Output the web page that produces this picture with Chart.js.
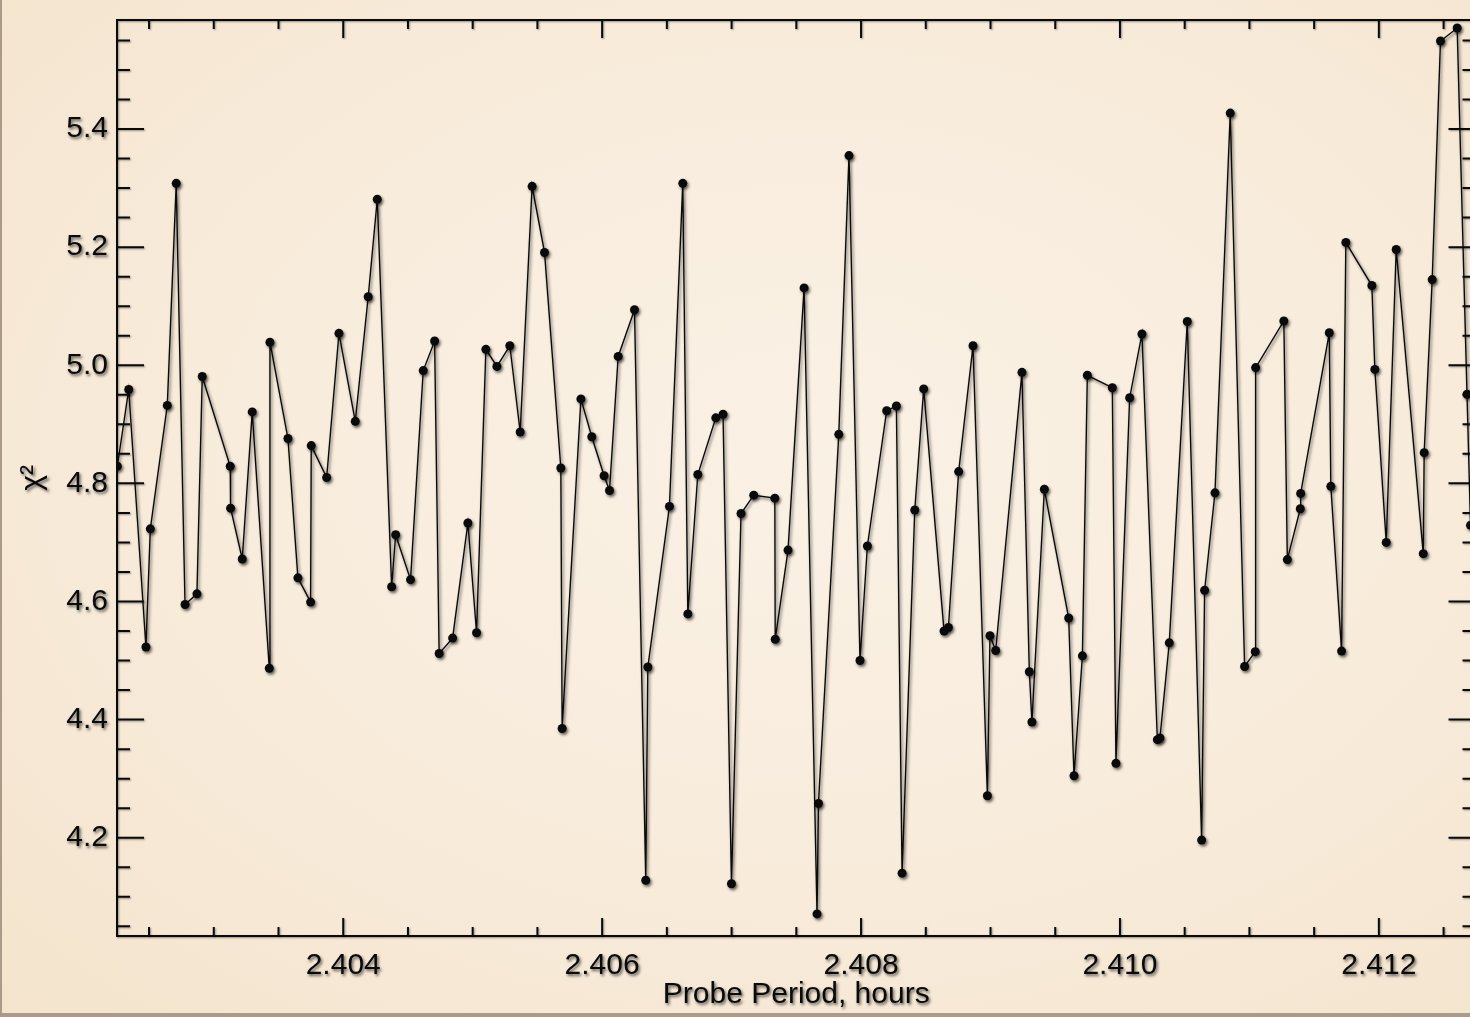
<!DOCTYPE html>
<html>
<head>
<meta charset="utf-8">
<script src="https://cdn.jsdelivr.net/npm/chart.js@4.4.1/dist/chart.umd.min.js"></script>
<style>
  html, body { margin: 0; padding: 0; width: 1470px; height: 1017px; overflow: hidden; background: #ab998a; }
  #paper {
    position: absolute; left: 2px; top: 0; width: 1468px; height: 1013px; overflow: hidden;
    background: radial-gradient(ellipse at 55% 45%, #faf1e5 0%, #f8ecdc 50%, #f4e4cd 100%);
  }
  #wrap { position: absolute; left: -2px; top: 0; width: 1480px; height: 1013px; }
</style>
</head>
<body>
<div id="paper">
  <div id="wrap"><canvas id="chi2Chart" width="1480" height="1013"></canvas></div>
</div>
<script>
// probe period (hours) and chi-square
const periods = [
  2.402255, 2.402343, 2.402476, 2.402510, 2.402641, 2.402710, 2.402778, 2.402870, 2.402911, 2.403127,
  2.403130, 2.403220, 2.403297, 2.403429, 2.403434, 2.403573, 2.403650, 2.403748, 2.403753, 2.403872,
  2.403967, 2.404093, 2.404193, 2.404263, 2.404374, 2.404405, 2.404520, 2.404618, 2.404706, 2.404741,
  2.404845, 2.404963, 2.405030, 2.405102, 2.405187, 2.405287, 2.405367, 2.405459, 2.405555, 2.405681,
  2.405691, 2.405836, 2.405920, 2.406015, 2.406057, 2.406124, 2.406250, 2.406337, 2.406353, 2.406520,
  2.406623, 2.406662, 2.406739, 2.406878, 2.406934, 2.406999, 2.407073, 2.407171, 2.407334, 2.407337,
  2.407436, 2.407560, 2.407660, 2.407671, 2.407828, 2.407907, 2.407992, 2.408049, 2.408198, 2.408273,
  2.408317, 2.408415, 2.408484, 2.408641, 2.408675, 2.408754, 2.408865, 2.408976, 2.408996, 2.409040,
  2.409243, 2.409300, 2.409320, 2.409416, 2.409604, 2.409645, 2.409710, 2.409748, 2.409941, 2.409969,
  2.410075, 2.410170, 2.410289, 2.410309, 2.410381, 2.410520, 2.410631, 2.410654, 2.410734, 2.410852,
  2.410963, 2.411045, 2.411048, 2.411266, 2.411293, 2.411393, 2.411396, 2.411617, 2.411629, 2.411712,
  2.411745, 2.411946, 2.411969, 2.412057, 2.412134, 2.412343, 2.412350, 2.412412, 2.412476, 2.412605,
  2.412681, 2.412708
];
const chi2 = [
  4.829, 4.959, 4.523, 4.723, 4.932, 5.308, 4.595, 4.613, 4.981, 4.829,
  4.758, 4.672, 4.921, 4.487, 5.039, 4.876, 4.640, 4.599, 4.864, 4.810,
  5.054, 4.905, 5.116, 5.281, 4.625, 4.713, 4.637, 4.991, 5.041, 4.512,
  4.538, 4.733, 4.547, 5.027, 4.998, 5.033, 4.887, 5.303, 5.191, 4.826,
  4.385, 4.943, 4.879, 4.813, 4.788, 5.015, 5.094, 4.128, 4.489, 4.761,
  5.308, 4.579, 4.815, 4.911, 4.917, 4.122, 4.749, 4.780, 4.775, 4.536,
  4.687, 5.131, 4.071, 4.258, 4.883, 5.355, 4.500, 4.694, 4.923, 4.931,
  4.140, 4.755, 4.960, 4.550, 4.556, 4.820, 5.033, 4.271, 4.542, 4.517,
  4.988, 4.481, 4.396, 4.790, 4.572, 4.305, 4.508, 4.983, 4.962, 4.326,
  4.945, 5.053, 4.366, 4.369, 4.530, 5.074, 4.196, 4.619, 4.784, 5.427,
  4.490, 4.515, 4.996, 5.075, 4.671, 4.757, 4.783, 5.055, 4.795, 4.516,
  5.208, 5.135, 4.993, 4.700, 5.196, 4.681, 4.852, 5.145, 5.549, 5.571,
  4.951, 4.729
];

const xTickValues = [2.404, 2.406, 2.408, 2.410, 2.412];
const xTickLabels = ['2.404', '2.406', '2.408', '2.410', '2.412'];
const yTickValues = [4.2, 4.4, 4.6, 4.8, 5.0, 5.2, 5.4];
const yTickLabels = ['4.2', '4.4', '4.6', '4.8', '5.0', '5.2', '5.4'];

const xMin = 2.4022525, xMax = 2.4127465;
const yMin = 4.0336, yMax = 5.5846;
const xMinorStep = 0.0005, yMinorStep = 0.05;

const fontFamily = "'Liberation Sans', Arial, Helvetica, sans-serif";
const ink = '#0a0a0a';

// soft drop shadow, like the slide the plot was pasted on
const shadowPlugin = {
    id: 'shadow',
    beforeDraw(chart) {
        const ctx = chart.ctx;
        ctx.shadowColor = 'rgba(0, 0, 0, 0.6)';
        ctx.shadowBlur = 3;
        ctx.shadowOffsetX = 1.5;
        ctx.shadowOffsetY = 2;
    }
};

// IDL-style box with inward ticks on all four sides
const framePlugin = {
    id: 'frame',
    afterDraw(chart) {
        const ctx = chart.ctx;
        const area = chart.chartArea;
        const xs = chart.scales.x;
        const ys = chart.scales.y;
        ctx.save();
        ctx.shadowColor = 'rgba(0, 0, 0, 0.4)';
        ctx.shadowBlur = 2;
        ctx.shadowOffsetX = 1;
        ctx.shadowOffsetY = 1;
        ctx.strokeStyle = ink;
        ctx.lineWidth = 2;
        ctx.strokeRect(area.left, area.top, area.right - area.left, area.bottom - area.top);

        function xTick(v, len) {
            const px = xs.getPixelForValue(v);
            ctx.moveTo(px, area.bottom); ctx.lineTo(px, area.bottom - len);
            ctx.moveTo(px, area.top); ctx.lineTo(px, area.top + len);
        }
        function yTick(v, len) {
            const py = ys.getPixelForValue(v);
            ctx.moveTo(area.left, py); ctx.lineTo(area.left + len, py);
            ctx.moveTo(area.right, py); ctx.lineTo(area.right - len, py);
        }
        ctx.beginPath();
        for (let k = Math.ceil(xMin / xMinorStep); k * xMinorStep <= xMax; k++) {
            xTick(k * xMinorStep, 9);
        }
        xTickValues.forEach(v => xTick(v, 18));
        for (let k = Math.ceil(yMin / yMinorStep); k * yMinorStep <= yMax; k++) {
            yTick(k * yMinorStep, 13);
        }
        yTickValues.forEach(v => yTick(v, 27));
        ctx.stroke();
        ctx.restore();
    }
};

const ctx = document.getElementById('chi2Chart').getContext('2d');

new Chart(ctx, {
    type: 'scatter',
    data: {
        datasets: [{
            data: periods.map((p, i) => ({ x: p, y: chi2[i] })),
            showLine: true,
            borderColor: ink,
            borderWidth: 1.4,
            backgroundColor: ink,
            pointRadius: 4.5,
            pointBorderWidth: 0,
            pointBackgroundColor: ink,
            tension: 0
        }]
    },
    options: {
        responsive: false,
        animation: false,
        layout: { padding: { left: 0, top: 20, right: 4, bottom: 0 } },
        plugins: {
            legend: { display: false },
            tooltip: { enabled: false }
        },
        scales: {
            x: {
                type: 'linear',
                min: xMin,
                max: xMax,
                afterBuildTicks: s => { s.ticks = xTickValues.map(v => ({ value: v })); },
                afterFit: s => { s.height = 77; s.paddingLeft = 0; s.paddingRight = 0; },
                grid: { display: false, drawTicks: false },
                border: { display: false },
                ticks: {
                    autoSkip: false,
                    maxRotation: 0,
                    padding: 12,
                    color: ink,
                    font: { family: fontFamily, size: 30 },
                    callback: function(value) {
                        const i = xTickValues.indexOf(value);
                        return i >= 0 ? xTickLabels[i] : '';
                    }
                },
                title: {
                    display: true,
                    text: 'Probe Period, hours',
                    color: ink,
                    font: { family: fontFamily, size: 30 },
                    padding: { top: 0, bottom: 0 }
                }
            },
            y: {
                type: 'linear',
                min: yMin,
                max: yMax,
                afterBuildTicks: s => { s.ticks = yTickValues.map(v => ({ value: v })); },
                afterFit: s => { s.width = 117; s.paddingTop = 0; s.paddingBottom = 0; },
                grid: { display: false, drawTicks: false },
                border: { display: false },
                ticks: {
                    autoSkip: false,
                    padding: 9,
                    color: ink,
                    font: { family: fontFamily, size: 30 },
                    callback: function(value) {
                        const i = yTickValues.indexOf(value);
                        return i >= 0 ? yTickLabels[i] : '';
                    }
                },
                title: {
                    display: true,
                    text: 'χ²',
                    color: ink,
                    font: { family: fontFamily, size: 30 },
                    padding: { top: 15, bottom: 0 }
                }
            }
        }
    },
    plugins: [shadowPlugin, framePlugin]
});
</script>
</body>
</html>
